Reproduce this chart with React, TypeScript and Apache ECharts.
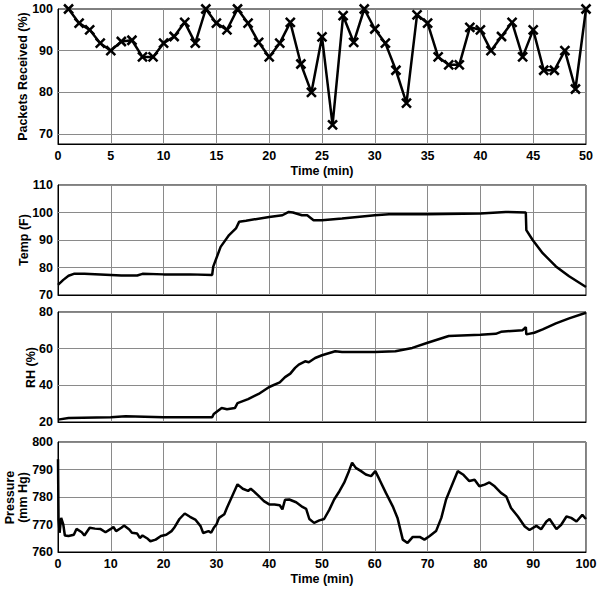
import React, { useEffect, useRef } from "react";
import * as echarts from "echarts";

const packetMinutes = [1,2,3,4,5,6,7,8,9,10,11,12,13,14,15,16,17,18,19,20,21,22,23,24,25,26,27,28,29,30,31,32,33,34,35,36,37,38,39,40,41,42,43,44,45,46,47,48,49,50];
const packetsReceived = [100,96.6,95,91.8,90,92.2,92.5,88.5,88.5,91.8,93.4,96.8,91.8,100,96.6,95,100,96.6,92,88.5,91.8,96.8,86.8,80,93.3,72.2,98.4,92,100,95.2,91.8,85.3,77.4,98.6,96.6,88.5,86.6,86.6,95.6,95,90,93.4,96.8,88.5,95,85.3,85.3,90,80.8,100];

const tempTime = [0,1,2,3,5,10,12,15,16,20,25,29.2,29.4,30.8,32.4,33.7,34.3,35.6,40,42.5,43.7,44.5,46.2,47.2,48.4,50,53.8,60,62.7,70,80,84.8,88.6,88.7,89.9,91.8,94.3,96.8,100];
const tempValue = [73.7,75.5,77,77.7,77.7,77.3,77.1,77.1,77.7,77.5,77.5,77.3,80.3,87.5,91.8,94.2,96.6,97,98.4,99,100.2,100,99,99,97.2,97.2,97.8,99,99.4,99.4,99.6,100.2,100,93.6,90,85.2,80.4,76.8,72.9];

const rhTime = [0,2,10,12.8,20,29.2,29.5,31,32,33.5,34,36,38,40,42,43,44,44.9,45.6,46.8,47.5,48.7,50,52.5,53.8,60,63.9,67.1,70,74,80,82.9,83.9,88,88.6,88.7,90.2,91.8,94.3,96.8,100];
const rhValue = [21.3,22.2,22.6,23.1,22.6,22.6,24.4,27.6,27,27.6,30.3,32.5,35.3,39.1,41.6,44.5,46.4,49.5,51.3,53.1,52.6,54.9,56.4,58.6,58.2,58.2,58.6,60.4,63.2,66.9,67.6,68.1,69.2,70.1,71.8,67.8,68.7,70.5,73.8,76.5,79.6];

const pressureTime = [0,0.1,0.3,0.6,1,1.3,2,3,3.5,4.5,5,6,7,8,9,10,10.5,11,12,12.5,13.5,14,15,15.5,16,17,17.5,18.5,19.5,20.5,21.5,22,23,24,25,26,27,27.5,28.5,29,29.5,30,30.5,31.5,32,33,34,35,36,36.5,37,38,39,40,41,42,42.5,43,43.8,45.1,46.3,47,47.6,48.5,49.5,50.4,51.4,52.3,53.3,54.2,55.1,55.7,56.4,57.4,58.3,59.3,60.1,60.9,62.1,63.4,64.3,65.3,66.2,67.2,68.5,69.4,70.4,71.6,72.6,73.5,74.8,75.7,76.7,77.9,78.9,79.8,80.8,81.7,82.7,83.9,84.9,85.8,87.1,88.4,89.3,90.6,91.5,92.5,93.1,94.4,95.3,96.3,97.2,98.2,99.3,100];
const pressureValue = [793.7,771.8,767,772.4,770,766,765.8,766.3,768.4,767.2,766,768.8,768.5,768.4,767.2,768.4,769.1,767.6,768.8,769.6,768.2,767,766.7,765.1,766,764.8,763.9,764.5,765.8,766.3,767.6,768.8,772,774,772.8,771.8,769.4,766.9,767.6,767,768.8,770,772.4,773.7,776.1,780.4,784.6,783,782.2,783,782.2,780.4,778.5,777.3,777.3,777,775.5,779,779.1,778.1,776.4,775.7,772,770.6,771.5,772,775.4,779.1,782.1,785.2,789.4,792.5,790.6,789.4,788.2,787.6,789.4,786.3,781.5,776.6,772.4,764.5,763.3,765.5,765.5,764.5,765.8,767.6,772.4,779.1,785.2,789.4,788.2,785.8,786.3,783.9,784.5,785.3,783.9,781.5,780.2,776,772.9,769.3,768,769.5,768.3,771.1,772,768.3,769.9,772.9,772.4,771.1,773.5,772];

// tick values (gridlines) per panel
const packetXTicks = [0,5,10,15,20,25,30,35,40,45,50];
const packetYTicks = [70,80,90,100];
const timeTicks = [0,10,20,30,40,50,60,70,80,90,100];
const tempTicks = [70,80,90,100,110];
const rhTicks = [20,40,60,80];
const pressureTicks = [760,770,780,790,800];

const yTitles = ["Packets Received (%)", "Temp (F)", "RH (%)", "Pressure\n(mm Hg)"];

const FONT = "Liberation Sans, Arial, sans-serif";
const GRID_COLOR = "#8a8a8a";

export default function App() {
  const ref = useRef<HTMLDivElement>(null);
  useEffect(() => {
    if (!ref.current) return;
    const chart = echarts.init(ref.current, null, { renderer: "svg" });
    const left = 58;
    const width = 528;
    const gridBoxes = [
      { left, width, top: 9, height: 135 },
      { left, width, top: 185, height: 110 },
      { left, width, top: 312, height: 110 },
      { left, width, top: 442, height: 110 },
    ];
    const grids = gridBoxes.map((g) => ({
      ...g,
      show: true,
      borderColor: "#000",
      borderWidth: 1,
      outerBoundsMode: "none",
      containLabel: false,
    }));

    const panels = [
      { xMin: 0, xMax: 50, yMin: 67.6, yMax: 100, xt: packetXTicks, yt: packetYTicks },
      { xMin: 0, xMax: 100, yMin: 70, yMax: 110, xt: timeTicks, yt: tempTicks },
      { xMin: 0, xMax: 100, yMin: 20, yMax: 80, xt: timeTicks, yt: rhTicks },
      { xMin: 0, xMax: 100, yMin: 760, yMax: 800, xt: timeTicks, yt: pressureTicks },
    ];

    const labelStyle = () => ({ color: "#000", fontFamily: FONT, fontWeight: "bold", fontSize: 12.5 });
    const axisLine = () => ({ show: true, onZero: false, lineStyle: { color: "#000", width: 1 } });

    const xAxis = panels.map((p, i) => {
      const showLabels = i === 0 || i === 3;
      return {
        type: "value",
        gridIndex: i,
        min: p.xMin,
        max: p.xMax,
        interval: p.xt[1] - p.xt[0],
        axisLine: axisLine(),
        axisTick: { show: false },
        splitLine: { show: true, lineStyle: { color: GRID_COLOR, width: 1 } },
        axisLabel: { show: showLabels, margin: 5, ...labelStyle() },
        name: showLabels ? "Time (min)" : "",
        nameLocation: "middle",
        nameGap: 20,
        nameTextStyle: labelStyle(),
      };
    });

    const yAxis = panels.map((p, i) => {
      const base: any = {
        type: "value",
        gridIndex: i,
        min: p.yMin,
        max: p.yMax,
        axisLine: axisLine(),
        axisTick: { show: false },
        splitLine: { show: i !== 0, lineStyle: { color: GRID_COLOR, width: 1 } },
        axisLabel: {
          margin: 5,
          ...labelStyle(),
          formatter: (v: number) => (p.yt.indexOf(Math.round(v * 1000) / 1000) >= 0 ? String(v) : ""),
        },
      };
      if (i === 0) base.splitNumber = 3;
      else base.interval = p.yt[1] - p.yt[0];
      return base;
    });

    const gridLineSeries = panels.map((p, i) => ({
      type: "lines",
      coordinateSystem: "cartesian2d",
      xAxisIndex: i,
      yAxisIndex: i,
      silent: true,
      z: 1,
      lineStyle: { color: GRID_COLOR, width: 1, opacity: 1 },
      data: [
        ...p.xt.filter((x) => x > p.xMin && x < p.xMax).map((x) => ({ coords: [[x, p.yMin], [x, p.yMax]] })),
        ...p.yt.filter((y) => y > p.yMin && y < p.yMax).map((y) => ({ coords: [[p.xMin, y], [p.xMax, y]] })),
      ],
    }));

    const lineStyle = () => ({ color: "#000", width: 2.5 });
    const zip = (xs: number[], ys: number[]) => xs.map((x, i) => [x, ys[i]]);

    const titleCenters = [
      { x: 23, y: 76.5 },
      { x: 24, y: 240 },
      { x: 30.5, y: 367.5 },
      { x: 16.5, y: 497.5 },
    ];

    chart.setOption({
      animation: false,
      grid: grids,
      xAxis,
      yAxis,
      graphic: yTitles.map((t, i) => ({
        type: "text",
        x: titleCenters[i].x,
        y: titleCenters[i].y,
        rotation: Math.PI / 2,
        style: {
          text: t,
          fill: "#000",
          fontFamily: FONT,
          fontWeight: "bold",
          fontSize: 12.5,
          lineHeight: 13,
          align: "center",
          verticalAlign: "middle",
        },
      })),
      series: [
        ...gridLineSeries,
        {
          type: "line",
          xAxisIndex: 0,
          yAxisIndex: 0,
          z: 3,
          data: zip(packetMinutes, packetsReceived),
          symbol: "path://M0,0L10,10M10,0L0,10",
          symbolSize: 9,
          showAllSymbol: true,
          itemStyle: { color: "none", borderColor: "#000", borderWidth: 2.5 },
          lineStyle: lineStyle(),
        },
        { type: "line", xAxisIndex: 1, yAxisIndex: 1, z: 3, data: zip(tempTime, tempValue), showSymbol: false, lineStyle: lineStyle() },
        { type: "line", xAxisIndex: 2, yAxisIndex: 2, z: 3, data: zip(rhTime, rhValue), showSymbol: false, lineStyle: lineStyle() },
        { type: "line", xAxisIndex: 3, yAxisIndex: 3, z: 3, data: zip(pressureTime, pressureValue), showSymbol: false, lineStyle: lineStyle() },
      ],
    });
    return () => chart.dispose();
  }, []);
  return (
    <div
      ref={ref}
      style={{ position: "fixed", left: 0, top: 0, width: 600, height: 589, background: "#fff" }}
    />
  );
}
